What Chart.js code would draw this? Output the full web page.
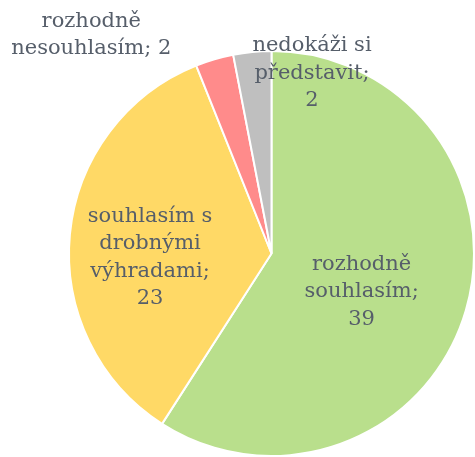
<!DOCTYPE html>
<html>
<head>
<meta charset="utf-8">
<script src="https://cdn.jsdelivr.net/npm/chart.js@4"></script>
<style>
  html, body { margin: 0; padding: 0; background: #fff; }
  #wrap { width: 475px; height: 457px; position: relative; }
</style>
</head>
<body>
<div id="wrap"><canvas id="pie"></canvas></div>
<script>
// Data
const categories = ['rozhodně souhlasím', 'souhlasím s drobnými výhradami', 'rozhodně nesouhlasím', 'nedokáži si představit'];
const values = [39, 23, 2, 2];
const colors = ['#b9df8c', '#ffd966', '#ff8b8b', '#bfbfbf'];

// label lines as shown in the picture
const labelLines = [
    ['rozhodně', 'souhlasím;', '39'],
    ['souhlasím s', 'drobnými', 'výhradami;', '23'],
    ['rozhodně', 'nesouhlasím; 2'],
    ['nedokáži si', 'představit;', '2']
];
// label centre, relative to pie centre in units of radius
const labelPos = [
    [0.445, 0.19],
    [-0.60, 0.02],
    [-0.89, -1.08],
    [0.20, -0.89]
];

const labelPlugin = {
    id: 'pieLabels',
    afterDatasetsDraw(chart) {
        const ctx = chart.ctx;
        const meta = chart.getDatasetMeta(0);
        const arc = meta.data[0];
        const cx = arc.x, cy = arc.y, r = arc.outerRadius;
        ctx.save();
        ctx.font = '21px "DejaVu Serif", Georgia, serif';
        ctx.fillStyle = '#565e6a';
        ctx.textAlign = 'center';
        ctx.textBaseline = 'middle';
        const lh = 27.5;
        labelLines.forEach((lines, i) => {
            const x = cx + labelPos[i][0] * r;
            const y = cy + labelPos[i][1] * r;
            const top = y - (lines.length - 1) * lh / 2;
            lines.forEach((t, j) => ctx.fillText(t, x, top + j * lh));
        });
        ctx.restore();
    }
};

new Chart(document.getElementById('pie'), {
    type: 'pie',
    data: {
        labels: categories,
        datasets: [{
            data: values,
            backgroundColor: colors,
            borderColor: '#ffffff',
            borderWidth: 2
        }]
    },
    options: {
        responsive: true,
        maintainAspectRatio: false,
        animation: false,
        layout: { padding: { left: 68, top: 50, right: 0, bottom: 0 } },
        plugins: {
            legend: { display: false },
            tooltip: { enabled: false }
        }
    },
    plugins: [labelPlugin]
});
</script>
</body>
</html>
